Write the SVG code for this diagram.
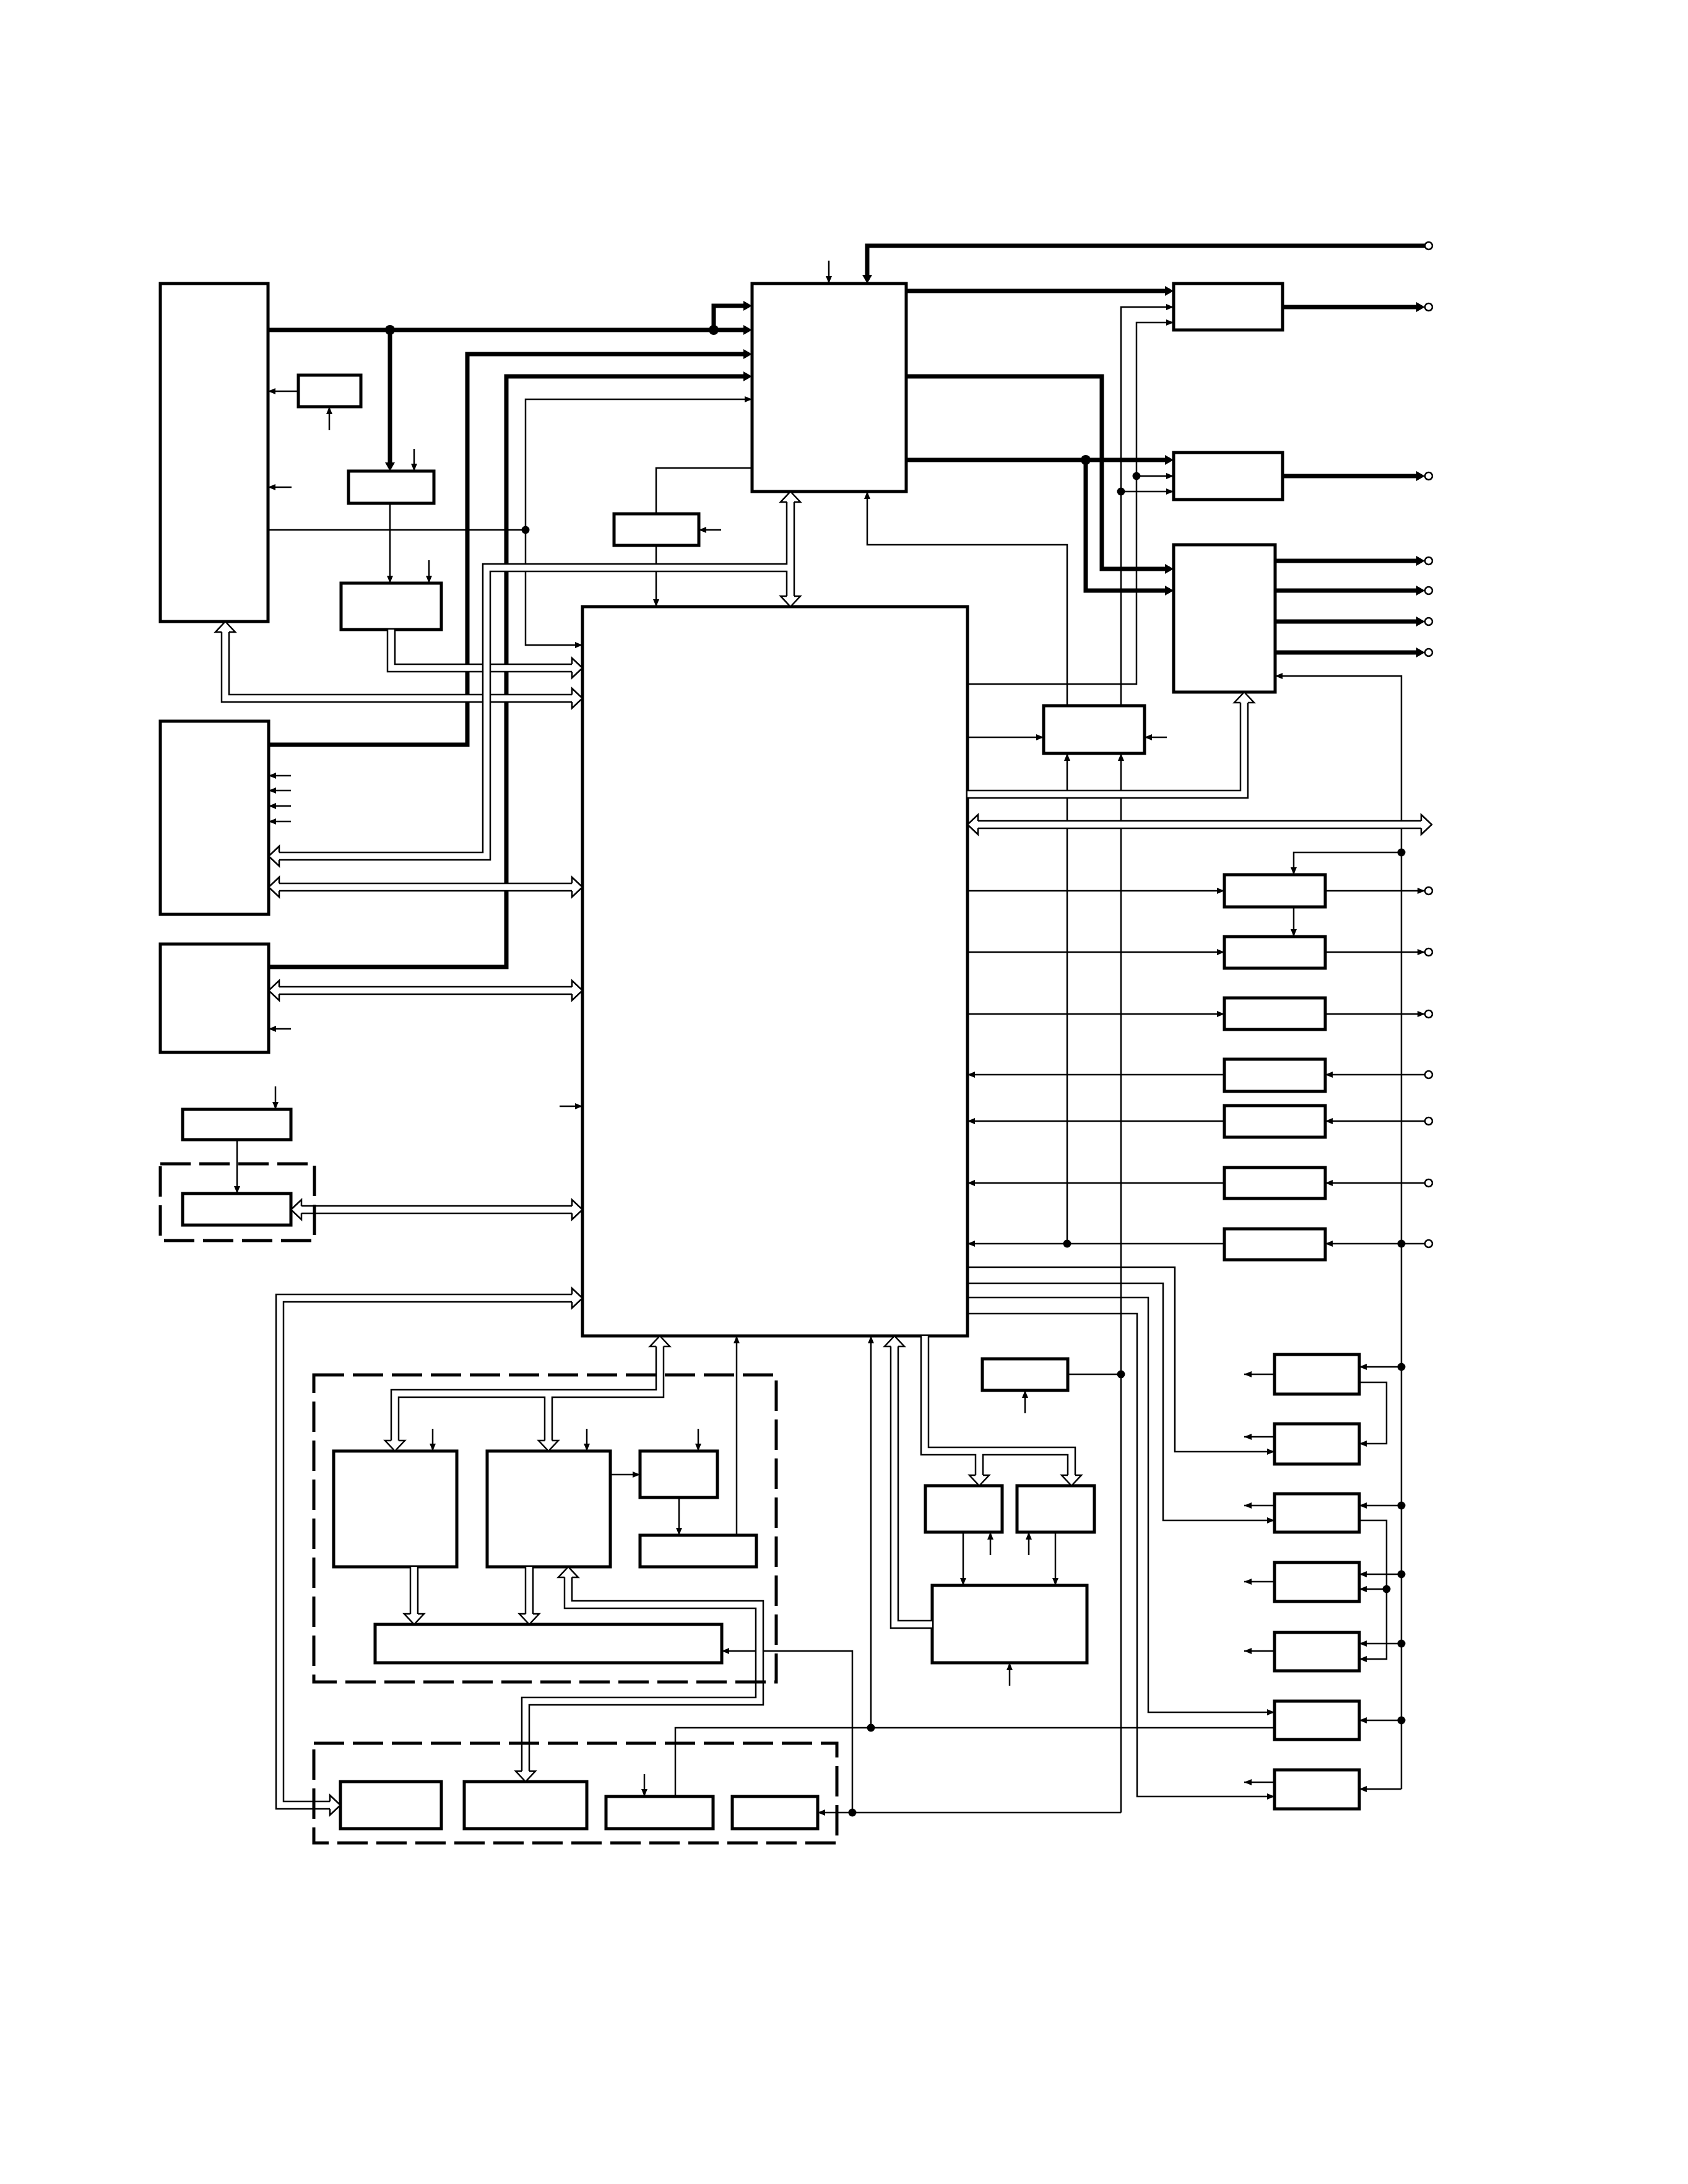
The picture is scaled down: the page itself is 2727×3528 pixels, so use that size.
<svg xmlns="http://www.w3.org/2000/svg" width="2727" height="3528" viewBox="0 0 2727 3528">
<style>
.b{fill:#fff;stroke:#000;stroke-width:5}
.d{fill:none;stroke:#000;stroke-width:5;stroke-dasharray:49 14}
.t{fill:none;stroke:#000;stroke-width:2.5}
.k{fill:none;stroke:#000;stroke-width:7}
.a{marker-end:url(#ma)}
.ak{marker-end:url(#mk)}
.bc{fill:none;stroke:#000;stroke-width:14.5}
.bw{fill:none;stroke:#fff;stroke-width:9.5}
.h{fill:#fff;stroke:#000;stroke-width:2.5}
.c{fill:#fff;stroke:#000;stroke-width:2.5}
</style>
<defs>
<marker id="ma" markerUnits="userSpaceOnUse" markerWidth="12" markerHeight="10" refX="12" refY="5" orient="auto"><path d="M0,0L12,5L0,10z"/></marker>
<marker id="mk" markerUnits="userSpaceOnUse" markerWidth="14" markerHeight="16" refX="8" refY="8" orient="auto"><path d="M0,0L14,8L0,16z"/></marker>
<path id="ha" class="h" d="M-17,-6V-16L0,0L-17,16V6"/>
</defs>
<rect x="0" y="0" width="2727" height="3528" fill="#fff"/>

<g id="nodes">
<g id="L1"><rect class="b" x="259" y="458" width="174" height="546"/></g>
<g id="B1"><rect class="b" x="482" y="606" width="101" height="51"/></g>
<g id="B2"><rect class="b" x="563" y="761" width="138" height="52"/></g>
<g id="B3"><rect class="b" x="551" y="942" width="162" height="75"/></g>
<g id="B4"><rect class="b" x="992" y="830" width="137" height="51"/></g>
<g id="MUX"><rect class="b" x="1215" y="458" width="249" height="336"/></g>
<g id="R1"><rect class="b" x="1896" y="458" width="176" height="75"/></g>
<g id="R2"><rect class="b" x="1896" y="731" width="176" height="76"/></g>
<g id="R3"><rect class="b" x="1896" y="880" width="164" height="238"/></g>
<g id="MAIN"><rect class="b" x="941" y="980" width="622" height="1178"/></g>
<g id="L2"><rect class="b" x="259" y="1165" width="175" height="312"/></g>
<g id="L3"><rect class="b" x="259" y="1525" width="175" height="175"/></g>
<g id="M1"><rect class="b" x="295" y="1792" width="175" height="49"/></g>
<g id="M2"><rect class="b" x="295" y="1928" width="175" height="51"/></g>
<g id="B5"><rect class="b" x="1686" y="1140" width="163" height="77"/></g>
<g id="C1"><rect class="b" x="1978" y="1413" width="163" height="52"/></g>
<g id="C2"><rect class="b" x="1978" y="1513" width="163" height="51"/></g>
<g id="C3"><rect class="b" x="1978" y="1612" width="163" height="51"/></g>
<g id="C4"><rect class="b" x="1978" y="1711" width="163" height="52"/></g>
<g id="C5"><rect class="b" x="1978" y="1786" width="163" height="51"/></g>
<g id="C6"><rect class="b" x="1978" y="1886" width="163" height="50"/></g>
<g id="C7"><rect class="b" x="1978" y="1985" width="163" height="50"/></g>
<g id="E1"><rect class="b" x="1587" y="2195" width="138" height="51"/></g>
<g id="G1"><rect class="b" x="1495" y="2400" width="124" height="75"/></g>
<g id="G2"><rect class="b" x="1643" y="2400" width="125" height="75"/></g>
<g id="G3"><rect class="b" x="1506" y="2561" width="250" height="125"/></g>
<g id="D1"><rect class="b" x="2059" y="2188" width="137" height="64"/></g>
<g id="D2"><rect class="b" x="2059" y="2300" width="137" height="65"/></g>
<g id="D3"><rect class="b" x="2059" y="2413" width="137" height="62"/></g>
<g id="D4"><rect class="b" x="2059" y="2524" width="137" height="63"/></g>
<g id="D5"><rect class="b" x="2059" y="2637" width="137" height="62"/></g>
<g id="D6"><rect class="b" x="2059" y="2748" width="137" height="62"/></g>
<g id="D7"><rect class="b" x="2059" y="2859" width="137" height="63"/></g>
<g id="K1"><rect class="b" x="539" y="2344" width="199" height="187"/></g>
<g id="K2"><rect class="b" x="787" y="2344" width="199" height="187"/></g>
<g id="K3"><rect class="b" x="1034" y="2344" width="125" height="75"/></g>
<g id="K4"><rect class="b" x="1034" y="2480" width="188" height="51"/></g>
<g id="K5"><rect class="b" x="606" y="2624" width="560" height="62"/></g>
<g id="F1"><rect class="b" x="550" y="2878" width="163" height="76"/></g>
<g id="F2"><rect class="b" x="750" y="2878" width="198" height="76"/></g>
<g id="F3"><rect class="b" x="979" y="2902" width="173" height="52"/></g>
<g id="F4"><rect class="b" x="1183" y="2902" width="138" height="52"/></g>
</g>

<g id="connectors">
<!-- thick signal lines -->
<g id="thick">
<path class="k ak" d="M433,533H1209"/>
<path class="k ak" d="M1153,533V494H1209"/>
<path class="k ak" d="M630,533V755"/>
<path class="k ak" d="M434,1203H755V572H1209"/>
<path class="k ak" d="M434,1562H818V608H1209"/>
<path class="k ak" d="M2302,397H1401V452"/>
<path class="k ak" d="M1464,470H1890"/>
<path class="k ak" d="M2072,496H2296"/>
<path class="k ak" d="M1464,608H1780V919H1890"/>
<path class="k ak" d="M1464,743H1890"/>
<path class="k ak" d="M1754,743V954H1890"/>
<path class="k ak" d="M2072,769H2296"/>
<path class="k ak" d="M2060,906H2296"/>
<path class="k ak" d="M2060,954H2296"/>
<path class="k ak" d="M2060,1004H2296"/>
<path class="k ak" d="M2060,1054H2296"/>
</g>
<!-- thin signal lines -->
<g id="thin">
<path class="t a" d="M482,632H433"/>
<path class="t a" d="M532,695V657"/>
<path class="t a" d="M471,787H433"/>
<path class="t a" d="M669,725V761"/>
<path class="t a" d="M630,813V942"/>
<path class="t a" d="M693,905V942"/>
<path class="t" d="M433,856H849"/>
<path class="t a" d="M849,856V645H1215"/>
<path class="t a" d="M849,856V1042H941"/>
<path class="t" d="M1215,756H1060V830"/>
<path class="t a" d="M1165,856H1129"/>
<path class="t a" d="M1060,881V980"/>
<path class="t a" d="M1339,421V458"/>
<path class="t a" d="M1724,1140V880H1401V794"/>
<path class="t a" d="M1811,1140V496H1896"/>
<path class="t a" d="M1811,794H1896"/>
<path class="t a" d="M1563,1105H1836V521H1896"/>
<path class="t a" d="M1836,769H1896"/>
<path class="t a" d="M1563,1191H1686"/>
<path class="t a" d="M1885,1191H1849"/>
<path class="t a" d="M2264,2890V1092H2060"/>
<path class="t a" d="M2264,2890H2196"/>
<path class="t a" d="M1724,2009V1217"/>
<path class="t a" d="M1811,2928V1217"/>
<path class="t a" d="M2264,1377H2090V1413"/>
<path class="t a" d="M2090,1465V1513"/>
<path class="t a" d="M1563,1439H1978"/>
<path class="t a" d="M2141,1439H2302"/>
<path class="t a" d="M1563,1538H1978"/>
<path class="t a" d="M2141,1538H2302"/>
<path class="t a" d="M1563,1638H1978"/>
<path class="t a" d="M2141,1638H2302"/>
<path class="t a" d="M2302,1736H2141"/>
<path class="t a" d="M1978,1736H1563"/>
<path class="t a" d="M2302,1811H2141"/>
<path class="t a" d="M1978,1811H1563"/>
<path class="t a" d="M2302,1911H2141"/>
<path class="t a" d="M1978,1911H1563"/>
<path class="t a" d="M2302,2009H2141"/>
<path class="t a" d="M1978,2009H1563"/>
<path class="t a" d="M1563,2047H1898V2345H2059"/>
<path class="t a" d="M1563,2073H1879V2456H2059"/>
<path class="t a" d="M1563,2096H1855V2766H2059"/>
<path class="t a" d="M1563,2122H1837V2902H2059"/>
<path class="t a" d="M2059,2220H2010"/>
<path class="t a" d="M2059,2321H2010"/>
<path class="t a" d="M2059,2432H2010"/>
<path class="t a" d="M2059,2555H2010"/>
<path class="t a" d="M2059,2667H2010"/>
<path class="t a" d="M2059,2879H2010"/>
<path class="t a" d="M2264,2208H2196"/>
<path class="t a" d="M2264,2432H2196"/>
<path class="t a" d="M2264,2543H2196"/>
<path class="t a" d="M2264,2655H2196"/>
<path class="t a" d="M2264,2779H2196"/>
<path class="t a" d="M2196,2233H2240V2332H2196"/>
<path class="t a" d="M2196,2456H2240V2680H2196"/>
<path class="t a" d="M2240,2567H2196"/>
<path class="t" d="M1725,2220H1811"/>
<path class="t a" d="M1656,2283V2246"/>
<path class="t a" d="M1556,2475V2561"/>
<path class="t a" d="M1705,2475V2561"/>
<path class="t a" d="M1600,2512V2475"/>
<path class="t a" d="M1662,2512V2475"/>
<path class="t a" d="M1631,2723V2686"/>
<path class="t a" d="M1407,2791V2158"/>
<path class="t" d="M1091,2902V2791H2059"/>
<path class="t a" d="M1377,2928V2667H1166"/>
<path class="t a" d="M1811,2928H1321"/>
<path class="t a" d="M699,2308V2344"/>
<path class="t a" d="M948,2308V2344"/>
<path class="t a" d="M1128,2308V2344"/>
<path class="t a" d="M986,2382H1034"/>
<path class="t a" d="M1097,2419V2480"/>
<path class="t a" d="M1190,2480V2158"/>
<path class="t a" d="M1041,2866V2902"/>
<path class="t a" d="M470,1253H434"/>
<path class="t a" d="M470,1277H434"/>
<path class="t a" d="M470,1302H434"/>
<path class="t a" d="M470,1327H434"/>
<path class="t a" d="M470,1662H434"/>
<path class="t a" d="M904,1787H941"/>
<path class="t a" d="M445,1755V1792"/>
<path class="t a" d="M383,1841V1928"/>
</g>
<!-- buses (double-line) -->
<g id="buses">
<g id="busA"><path class="bc" d="M364,1021V1128H924"/><path class="bw" d="M364,1021V1128H924"/></g>
<g id="busB"><path class="bc" d="M632,1017V1079H924"/><path class="bw" d="M632,1017V1079H924"/></g>
<g id="busC"><path class="bc" d="M1277,811V963M1277,917H786V1383H451"/><path class="bw" d="M1277,811V963M1277,917H786V1383H451"/></g>
<g id="busD"><path class="bc" d="M451,1433H924"/><path class="bw" d="M451,1433H924"/></g>
<g id="busE"><path class="bc" d="M451,1600H924"/><path class="bw" d="M451,1600H924"/></g>
<g id="busF"><path class="bc" d="M487,1954H924"/><path class="bw" d="M487,1954H924"/></g>
<g id="busG"><path class="bc" d="M924,2097H452V2916H533"/><path class="bw" d="M924,2097H452V2916H533"/></g>
<g id="busH"><path class="bc" d="M1066,2175V2251H638V2327M886,2251V2327"/><path class="bw" d="M1066,2175V2251H638V2327M886,2251V2327"/></g>
<g id="busI"><path class="bc" d="M669,2531V2607"/><path class="bw" d="M669,2531V2607"/></g>
<g id="busJ"><path class="bc" d="M855,2531V2607"/><path class="bw" d="M855,2531V2607"/></g>
<g id="busK"><path class="bc" d="M918,2548V2592H1227V2748H849V2861"/><path class="bw" d="M918,2548V2592H1227V2748H849V2861"/></g>
<g id="busM"><path class="bc" d="M1580,1332H2296"/><path class="bw" d="M1580,1332H2296"/></g>
<g id="busN"><path class="bc" d="M1563,1283H2010V1135"/><path class="bw" d="M1563,1283H2010V1135"/></g>
<g id="busO"><path class="bc" d="M1445,2175V2624H1506"/><path class="bw" d="M1445,2175V2624H1506"/></g>
<g id="busP"><path class="bc" d="M1494,2158V2344H1731V2383M1582,2344V2383"/><path class="bw" d="M1494,2158V2344H1731V2383M1582,2344V2383"/></g>
<!-- hollow arrowheads -->
<use href="#ha" transform="translate(364,1004) rotate(-90)"/>
<use href="#ha" transform="translate(941,1128)"/>
<use href="#ha" transform="translate(941,1079)"/>
<use href="#ha" transform="translate(1277,794) rotate(-90)"/>
<use href="#ha" transform="translate(1277,980) rotate(90)"/>
<use href="#ha" transform="translate(434,1383) rotate(180)"/>
<use href="#ha" transform="translate(434,1433) rotate(180)"/>
<use href="#ha" transform="translate(941,1433)"/>
<use href="#ha" transform="translate(434,1600) rotate(180)"/>
<use href="#ha" transform="translate(941,1600)"/>
<use href="#ha" transform="translate(470,1954) rotate(180)"/>
<use href="#ha" transform="translate(941,1954)"/>
<use href="#ha" transform="translate(941,2097)"/>
<use href="#ha" transform="translate(550,2916)"/>
<use href="#ha" transform="translate(1066,2158) rotate(-90)"/>
<use href="#ha" transform="translate(638,2344) rotate(90)"/>
<use href="#ha" transform="translate(886,2344) rotate(90)"/>
<use href="#ha" transform="translate(669,2624) rotate(90)"/>
<use href="#ha" transform="translate(855,2624) rotate(90)"/>
<use href="#ha" transform="translate(918,2531) rotate(-90)"/>
<use href="#ha" transform="translate(849,2878) rotate(90)"/>
<use href="#ha" transform="translate(1563,1332) rotate(180)"/>
<use href="#ha" transform="translate(2313,1332)"/>
<use href="#ha" transform="translate(2010,1118) rotate(-90)"/>
<use href="#ha" transform="translate(1445,2158) rotate(-90)"/>
<use href="#ha" transform="translate(1582,2400) rotate(90)"/>
<use href="#ha" transform="translate(1731,2400) rotate(90)"/>
</g>
<!-- junction dots -->
<g id="dots" fill="#000">
<circle cx="630" cy="533" r="8"/>
<circle cx="1153" cy="533" r="8"/>
<circle cx="1754" cy="743" r="8"/>
<circle cx="849" cy="856" r="6.5"/>
<circle cx="1811" cy="794" r="6.5"/>
<circle cx="1836" cy="769" r="6.5"/>
<circle cx="2264" cy="1377" r="6.5"/>
<circle cx="2264" cy="2009" r="6.5"/>
<circle cx="1724" cy="2009" r="6.5"/>
<circle cx="2264" cy="2208" r="6.5"/>
<circle cx="2264" cy="2432" r="6.5"/>
<circle cx="2264" cy="2543" r="6.5"/>
<circle cx="2264" cy="2655" r="6.5"/>
<circle cx="2264" cy="2779" r="6.5"/>
<circle cx="2240" cy="2567" r="6.5"/>
<circle cx="1811" cy="2220" r="6.5"/>
<circle cx="1407" cy="2791" r="6.5"/>
<circle cx="1377" cy="2928" r="6.5"/>
</g>
<!-- terminals -->
<g id="terminals">
<circle class="c" cx="2308" cy="397" r="6"/>
<circle class="c" cx="2308" cy="496" r="6"/>
<circle class="c" cx="2308" cy="769" r="6"/>
<circle class="c" cx="2308" cy="906" r="6"/>
<circle class="c" cx="2308" cy="954" r="6"/>
<circle class="c" cx="2308" cy="1004" r="6"/>
<circle class="c" cx="2308" cy="1054" r="6"/>
<circle class="c" cx="2308" cy="1439" r="6"/>
<circle class="c" cx="2308" cy="1538" r="6"/>
<circle class="c" cx="2308" cy="1638" r="6"/>
<circle class="c" cx="2308" cy="1736" r="6"/>
<circle class="c" cx="2308" cy="1811" r="6"/>
<circle class="c" cx="2308" cy="1911" r="6"/>
<circle class="c" cx="2308" cy="2009" r="6"/>
</g>
</g>

<g id="groups">
<g id="groupM"><rect class="d" x="259" y="1880" width="249" height="124"/></g>
<g id="groupK"><rect class="d" x="507" y="2221" width="747" height="496"/></g>
<g id="groupF"><rect class="d" x="507" y="2816" width="845" height="161"/></g>
</g>
</svg>
